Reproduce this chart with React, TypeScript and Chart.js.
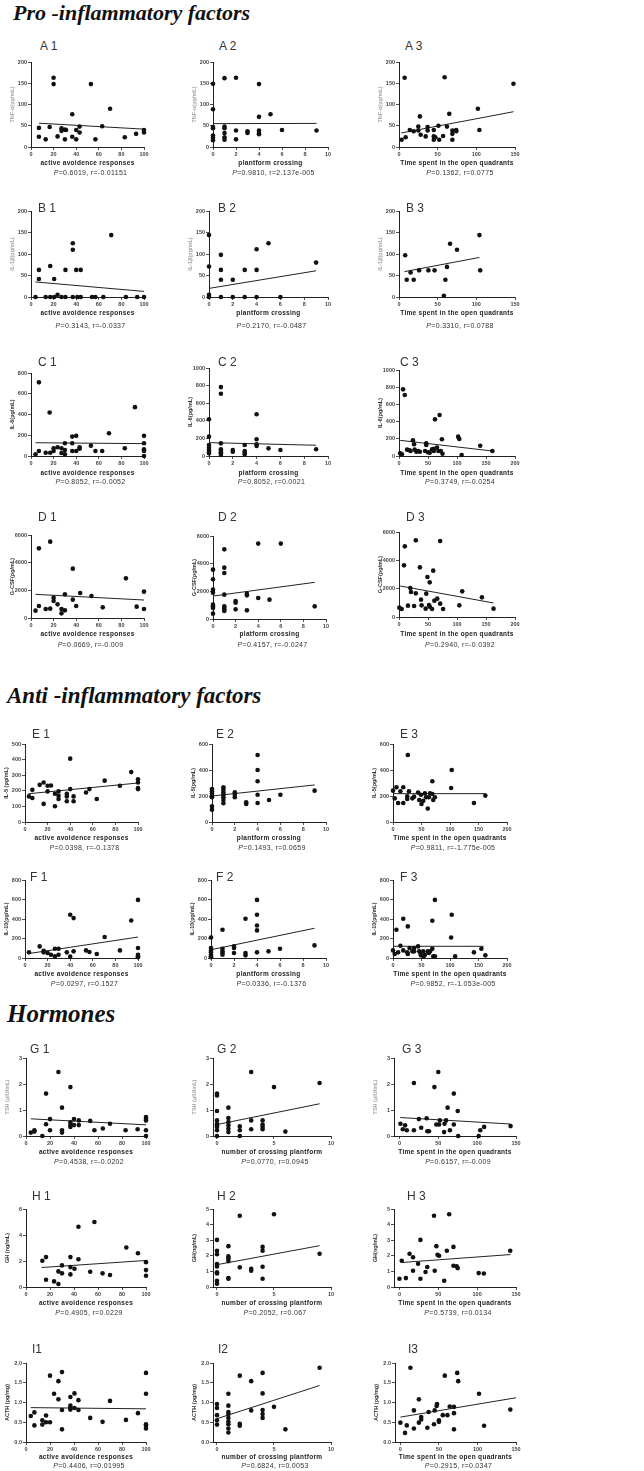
import React, { useEffect, useRef } from "react";
import { Chart, registerables } from "chart.js";
Chart.register(...registerables);

type Pt = [number, number];

// ---------- data (x, y) ----------
const A1: Pt[] = [[7,45],[7,24],[13,18],[16.5,47],[20,163],[20,148],[23.5,25],[27,44],[27,38],[30,41],[30,18],[31,40],[36.5,77],[36.5,24],[40,40],[40,18],[43,48],[43,34],[53,148],[57,18],[63,49],[70,90],[83,23],[93,31],[100,40],[100,34]];
const A1_FIT: Pt[] = [[7,56],[100,42]];
const A2: Pt[] = [[0,149],[0,89],[0,47],[0,44],[0,27],[0,22],[0,16],[1,162],[1,48],[1,44],[1,33],[1,23],[1,17],[2,163],[2,39],[2,18],[3,37],[3,33],[4,148],[4,71],[4,39],[4,33],[4,30],[5,77],[6,40],[9,39]];
const A2_FIT: Pt[] = [[0,55],[9,55.5]];
const A3: Pt[] = [[3.4,17],[7.3,163],[8.6,23],[14,40],[19,37],[25,39],[25,48],[27,72],[28,29],[34.5,25],[37,39],[37,47],[45,25],[45,40],[45,17],[47,23],[51,50],[52,17],[57,26],[59,164],[62,48],[65,78],[69,39],[69,31],[69,17],[74,40],[74,37],[102,90],[104,40],[148,149]];
const A3_FIT: Pt[] = [[3,33],[148,83]];

const B1: Pt[] = [[4,0],[7,63],[7,42],[13,0],[17,72],[17,0],[20.5,42],[20.5,0],[23.5,5],[27,0],[30.5,63],[30.5,0],[37,125],[37,110],[37,0],[40,63],[41,0],[44,63],[44,0],[54,0],[57,0],[64,0],[71,144],[84,0],[94,0],[100,0],[100.5,0]];
const B1_FIT: Pt[] = [[4,35],[100,13]];
const B2: Pt[] = [[0,144],[0,71],[0,5],[0,0],[1,98],[1,63],[1,40],[1,0],[2,40],[2,0],[3,63],[3,0],[4,111],[4,63],[4,0],[5,125],[6,0],[9,80]];
const B2_FIT: Pt[] = [[0,20],[9,61]];
const B3: Pt[] = [[8,97],[10,40],[15,57],[19,40],[26,62],[38,62],[46,62],[58,3],[60,40],[62,70],[66,124],[75,110],[104,144],[105,62]];
const B3_FIT: Pt[] = [[7,59],[104,92]];

const C1: Pt[] = [[4,16],[7,710],[7,48],[13,32],[16.5,419],[17,32],[20,48],[20,74],[23.5,84],[27,74],[27,29],[30,58],[30,123],[30,16],[36.5,187],[36.5,123],[36.5,48],[40,194],[40,48],[43,71],[43,84],[53,100],[57,48],[63,48],[69,219],[83,74],[92,471],[100,194],[100,123],[100,65],[100,48],[100,0]];
const C1_FIT: Pt[] = [[4,128],[100,119]];
const C2: Pt[] = [[0,418],[0,220],[0,125],[0,95],[0,68],[0,49],[0,30],[1,783],[1,707],[1,144],[1,76],[1,57],[1,42],[1,27],[1,11],[2,68],[2,49],[3,125],[3,57],[3,38],[3,19],[4,475],[4,190],[4,133],[4,114],[5,87],[6,68],[9,76]];
const C2_FIT: Pt[] = [[0,152],[9,122]];
const C3: Pt[] = [[2,31],[5,19],[7,775],[10,709],[14,74],[18,66],[20,58],[24,182],[26,136],[27,74],[30,50],[33,58],[36,50],[45,58],[47,128],[47,147],[50,43],[53,39],[57,78],[60,58],[60,85],[62,426],[65.5,97],[68,58],[70,477],[72,58],[74,194],[75,27],[102,225],[104,198],[108,12],[140,120],[161,58]];
const C3_FIT: Pt[] = [[2,182],[161,58]];

const D1: Pt[] = [[4,530],[7,5036],[7,867],[13,650],[17,5518],[17,675],[20,1470],[20,1229],[23.5,988],[27,650],[27,337],[30,1711],[30,554],[37,3566],[37,1325],[40,867],[43.5,1807],[53.5,1590],[63.5,771],[84,2867],[93.5,819],[100,1904],[100,650]];
const D1_FIT: Pt[] = [[4,1710],[100,1300]];
const D2: Pt[] = [[0,3566],[0,2867],[0,2120],[0,1904],[0,1036],[0,916],[0,795],[0,386],[1,5036],[1,3711],[1,3325],[1,1759],[1,916],[1,795],[1,675],[1,578],[2,1301],[2,1181],[2,699],[3,1831],[3,1711],[3,627],[4,5450],[4,1518],[5,1398],[6,5450],[9,916]];
const D2_FIT: Pt[] = [[0,1660],[9,2650]];
const D3: Pt[] = [[0.6,659],[4.6,565],[10,4988],[8.6,3647],[15.5,800],[19.5,2047],[20.7,1765],[26,776],[29,1670],[29,5412],[36,3506],[38,1224],[39,824],[47,1647],[46,588],[49,2824],[51.7,847],[53,2447],[53,729],[57,565],[59,3271],[61,1153],[66,1294],[71,5365],[71,941],[76,565],[104,824],[109,1812],[143,1388],[163,588]];
const D3_FIT: Pt[] = [[2,2190],[163,990]];

const E1: Pt[] = [[3.5,164],[6.5,154],[6.5,206],[13,238],[16.5,253],[16.5,116],[20,232],[20,196],[23,234],[26.5,181],[26.5,101],[29.7,196],[29.7,168],[29.7,147],[37,181],[37,164],[37,133],[40,406],[40,211],[43,164],[43,133],[54,189],[57,211],[63.5,147],[70.5,265],[84,232],[94,320],[100,274],[100,253],[100,217],[100,211]];
const E1_FIT: Pt[] = [[3,181],[100,250]];
const E2: Pt[] = [[0,254],[0,236],[0,220],[0,203],[0,190],[0,120],[0,95],[1,267],[1,249],[1,228],[1,210],[1,190],[1,169],[1,144],[2,228],[2,210],[2,190],[3,151],[3,138],[4,515],[4,400],[4,313],[4,210],[4,146],[5,169],[6,210],[9,241]];
const E2_FIT: Pt[] = [[0,200],[9,285]];
const E3: Pt[] = [[0,241],[3,182],[6,267],[9,146],[13,236],[18,267],[18,146],[25,197],[25,177],[26,515],[28,236],[34,182],[37,195],[44,226],[46,169],[49,210],[50,138],[53,164],[61,103],[56,220],[58,190],[63,190],[65,220],[69,313],[69,215],[70.6,169],[73.5,190],[102,262],[103,400],[142,146],[162,203]];
const E3_FIT: Pt[] = [[0,218],[162,218]];

const F1: Pt[] = [[3.5,58],[13,119],[16.5,75],[16.5,58],[20,51],[23,34],[26.5,17],[26.5,95],[29.7,34],[29.7,95],[37,58],[40,443],[40,14],[43,409],[43,68],[54,78],[57,61],[63.5,41],[70.5,215],[84,78],[94,385],[100,596],[100,102],[100,34],[100,17],[100,7]];
const F1_FIT: Pt[] = [[3,45],[100,215]];
const F2: Pt[] = [[0,211],[0,102],[0,78],[0,58],[0,34],[0,17],[0,7],[1,290],[1,95],[1,68],[1,51],[1,34],[2,119],[2,102],[2,51],[3,402],[3,51],[3,27],[4,596],[4,443],[4,334],[4,283],[4,58],[5,68],[6,95],[9,129]];
const F2_FIT: Pt[] = [[0,85],[9,305]];
const F3: Pt[] = [[0,78],[3,41],[6,290],[9,58],[13,126],[18,402],[18,78],[25,58],[26,324],[26,41],[29,102],[34,68],[37,102],[37,68],[44,119],[46,68],[48,51],[49,27],[53,68],[54,17],[56,34],[61,68],[63,51],[65,68],[69,382],[69,95],[70.6,17],[73.5,596],[73.5,17],[102,211],[103,443],[109,17],[142,58],[155,95],[162,27]];
const F3_FIT: Pt[] = [[0,120],[159,120]];

const G1: Pt[] = [[4,0.13],[7,0.22],[7,0.17],[13.6,0],[16.7,1.63],[16.7,0.45],[20,0.65],[20,0.22],[27,2.46],[30,1.09],[30,0.22],[30,0.13],[37,1.88],[37,0.53],[37,0.42],[37,0.35],[40,0.65],[40,0.42],[44,0.6],[44,0.42],[53.5,0.58],[57,0.22],[64,0.29],[70,0.47],[83,0.22],[93,0.26],[100,0.73],[100,0.65],[100,0.6],[100,0.22],[100,0]];
const G1_FIT: Pt[] = [[4,0.66],[100,0.43]];
const G2: Pt[] = [[0,1.63],[0,1.56],[0,0.96],[0,0.6],[0,0.47],[0,0.41],[0,0.35],[0,0.22],[0,0],[1,1.09],[1,0.69],[1,0.54],[1,0.41],[1,0.28],[1,0.15],[2,0.37],[2,0.22],[2,0],[3,2.46],[3,0.6],[3,0.26],[4,0.6],[4,0.44],[4,0.35],[4,0.26],[5,1.88],[6,0.17],[9,2.04]];
const G2_FIT: Pt[] = [[0,0.44],[9,1.24]];
const G3: Pt[] = [[1.3,0.47],[4.3,0.26],[7.3,0.41],[9.5,0.22],[18.6,2.04],[18.6,0.22],[25,0.65],[28,0.32],[35,0.68],[36,0.18],[38,0.18],[45,1.88],[47.5,0.44],[50,2.46],[51,0.44],[52,0.6],[57.5,0.15],[58,0.47],[60,0.6],[62,1.09],[65,0.22],[70,1.63],[70,0.44],[75,0.96],[75.6,0],[102,0],[104,0.22],[109,0.35],[143,0.38]];
const G3_FIT: Pt[] = [[1,0.71],[143,0.46]];

const H1: Pt[] = [[13.6,2.02],[16.7,2.3],[16.7,0.56],[23.4,0.43],[27,0.23],[27,1.2],[30,1.66],[30,1.05],[37,2.3],[37,1.53],[37,0.97],[40.4,1.4],[43.7,4.64],[43.7,2.14],[53.5,1.17],[57,5.0],[63.8,1.05],[70,0.92],[83.6,3.04],[93.3,2.6],[100,1.91],[100,1.3],[100,0.87]];
const H1_FIT: Pt[] = [[13,1.5],[100,2.04]];
const H2: Pt[] = [[0,3.02],[0,2.32],[0,2.1],[0,1.47],[0,1.32],[0,0.94],[0,0.87],[0,0.4],[0,0.21],[1,2.62],[1,1.96],[1,1.85],[1,1.66],[1,0.57],[1,0.53],[2,4.57],[2,1.26],[3,1.17],[3,1.04],[4,2.57],[4,2.32],[4,1.3],[4,0.53],[5,4.66],[9,2.13]];
const H2_FIT: Pt[] = [[0,1.43],[9,2.65]];
const H3: Pt[] = [[0,0.53],[3,1.68],[8.3,0.57],[13,2.13],[17.5,1.91],[17.5,1.04],[24,1.49],[27,3.02],[27,0.53],[33.6,0.96],[35.8,1.28],[44.5,4.57],[45.4,1.04],[47.5,2.62],[49,2.06],[51,2.0],[57.6,0.4],[61,2.32],[64,4.66],[69.5,2.57],[69.5,1.36],[73.7,1.32],[75,1.21],[102,0.89],[108.6,0.87],[142.6,2.32]];
const H3_FIT: Pt[] = [[3,1.57],[143,2.08]];

const I1: Pt[] = [[4,0.66],[7,0.75],[7,0.42],[13.6,0.55],[13.6,0.44],[16.7,0.67],[16.7,0.5],[20,1.68],[20,0.5],[23.4,1.22],[27,1.54],[27,1.08],[30,1.77],[30,0.81],[30,0.32],[37,1.14],[37,0.92],[37,0.87],[37,0.82],[40.4,1.23],[40.4,0.86],[43.7,1.06],[43.7,0.81],[53.5,0.61],[63.8,0.51],[70,1.04],[83.3,0.56],[93.3,0.73],[100,1.75],[100,1.22],[100,0.45],[100,0.41],[100,0.34]];
const I1_FIT: Pt[] = [[4,0.87],[100,0.84]];
const I2: Pt[] = [[0,0.96],[0,0.86],[0,0.68],[0,0.55],[0,0.44],[1,1.22],[1,0.92],[1,0.76],[1,0.71],[1,0.61],[1,0.51],[1,0.45],[1,0.34],[1,0.24],[2,1.68],[2,0.46],[2,0.41],[3,1.54],[3,0.8],[4,1.75],[4,1.23],[4,0.81],[4,0.71],[4,0.61],[5,0.89],[6,0.32],[9,1.88]];
const I2_FIT: Pt[] = [[0,0.59],[9,1.43]];
const I3: Pt[] = [[0,0.49],[6,0.23],[8.3,0.42],[13,1.88],[17.5,0.8],[17.5,0.34],[24,1.08],[24,0.49],[27,0.63],[27,0.57],[35,0.36],[36.6,0.76],[43.6,0.45],[44.5,0.8],[47,0.91],[47.5,0.96],[50,0.55],[50,0.51],[55,0.68],[57.6,1.68],[61,0.68],[64,0.9],[69.5,0.73],[69.5,0.89],[69.5,0.32],[73.7,1.75],[75,1.54],[102,1.22],[108.6,0.41],[142.6,0.82]];
const I3_FIT: Pt[] = [[0,0.63],[150,1.12]];

// ---------- tick labels ----------
const X_100 = [0, 20, 40, 60, 80, 100];
const X_10 = [0, 2, 4, 6, 8, 10];
const X_10B = [0, 5, 10];
const X_150 = [0, 50, 100, 150];
const X_200 = [0, 50, 100, 150, 200];
const Y_200 = [0, 50, 100, 150, 200];
const Y_800 = [0, 200, 400, 600, 800];
const Y_1000 = [0, 200, 400, 600, 800, 1000];
const Y_6000 = [0, 2000, 4000, 6000];
const Y_500 = [0, 100, 200, 300, 400, 500];
const Y_600 = [0, 200, 400, 600];
const Y_3 = [0, 1, 2, 3];
const Y_6 = [0, 2, 4, 6];
const Y_5 = [0, 1, 2, 3, 4, 5];
const Y_2 = [0, 0.5, 1, 1.5, 2];

// ---------- texts ----------
const STATS = [
  "=0.6019, r=-0.01151", "=0.9810, r=2.137e-005", "=0.1362, r=0.0775",
  "=0.3143, r=-0.0337", "=0.2170, r=-0.0487", "=0.3310, r=0.0788",
  "=0.8052, r=-0.0052", "=0.8052, r=0.0021", "=0.3749, r=-0.0254",
  "=0.0669, r=-0.009", "=0.4157, r=-0.0247", "=0.2940, r=-0.0392",
  "=0.0398, r=-0.1378", "=0.1493, r=0.0659", "=0.9811, r=-1.775e-005",
  "=0.0297, r=0.1527", "=0.0336, r=-0.1376", "=0.9852, r=-1.053e-005",
  "=0.4538, r=-0.0202", "=0.0770, r=0.0945", "=0.6157, r=-0.009",
  "=0.4905, r=0.0229", "=0.2052, r=0.067", "=0.5739, r=0.0134",
  "=0.4406, r=0.01995", "=0.6824, r=0.0053", "=0.2915, r=0.0347",
];
const XT_AAR = "active avoidence responses";
const XT_PC = "plantform crossing";
const XT_PC2 = "platform crossing";
const XT_NCP = "number of crossing plantform";
const XT_TS = "Time spent in the open quadrants";

const SANS = '"Liberation Sans", Arial, sans-serif';
const SERIF = '"Liberation Serif", "Times New Roman", serif';

interface Spec {
  label: string; data: Pt[]; fit: Pt[]; stat: string; xTitle: string; yTitle: string; faint: boolean;
  left: number; right: number; top: number; bottom: number;
  xMin: number; xTicks: number[]; yTicks: number[];
  labX: number; labY: number; xtY: number; pvY: number;
}

function sp(label: string, data: Pt[], fit: Pt[], stat: string, xTitle: string, yTitle: string, faint: boolean,
  box: [number, number, number, number], xMin: number, xTicks: number[], yTicks: number[],
  lab: [number, number], xtY: number, pvY: number): Spec {
  return { label, data, fit, stat, xTitle, yTitle, faint, left: box[0], right: box[1], top: box[2], bottom: box[3],
    xMin, xTicks, yTicks, labX: lab[0], labY: lab[1], xtY, pvY };
}

const PANELS: Spec[] = [
  sp("A 1", A1, A1_FIT, STATS[0], XT_AAR, "TNF-α(pg/mL)", true, [31, 144, 62, 147], 0, X_100, Y_200, [40, 46], 163, 173),
  sp("A 2", A2, A2_FIT, STATS[1], XT_PC, "TNF-α(pg/mL)", true, [213, 328, 62, 147], 0, X_10, Y_200, [219, 46], 163, 173),
  sp("A 3", A3, A3_FIT, STATS[2], XT_TS, "TNF-α(pg/mL)", true, [399, 515, 62, 147], 0, X_150, Y_200, [405, 46], 163, 173),
  sp("B 1", B1, B1_FIT, STATS[3], XT_AAR, "IL-1β(pg/mL)", true, [31, 144, 211, 297], 0, X_100, Y_200, [38, 208], 313, 326),
  sp("B 2", B2, B2_FIT, STATS[4], XT_PC, "IL-1β(pg/mL)", true, [209, 328, 211, 297], 0, X_10, Y_200, [218, 208], 313, 326),
  sp("B 3", B3, B3_FIT, STATS[5], XT_TS, "IL-1β(pg/mL)", true, [399, 515, 211, 297], 0, X_150, Y_200, [406, 208], 313, 326),
  sp("C 1", C1, C1_FIT, STATS[6], XT_AAR, "IL-6(pg/mL)", false, [31, 144, 373, 456], 0, X_100, Y_800, [38, 362], 473, 482),
  sp("C 2", C2, C2_FIT, STATS[7], XT_PC2, "IL-6(pg/mL)", false, [209, 328, 368, 456], 0, X_10, Y_1000, [218, 362], 473, 482),
  sp("C 3", C3, C3_FIT, STATS[8], XT_TS, "IL-6(pg/mL)", false, [399, 515, 370, 456], 0, X_200, Y_1000, [400, 362], 473, 482),
  sp("D 1", D1, D1_FIT, STATS[9], XT_AAR, "G-CSF(pg/mL)", false, [31, 144, 535, 618], 0, X_100, Y_6000, [38, 517], 634, 645),
  sp("D 2", D2, D2_FIT, STATS[10], XT_PC2, "G-CSF(pg/mL)", false, [213, 326, 536, 619], 0, X_10, Y_6000, [218, 517], 634, 645),
  sp("D 3", D3, D3_FIT, STATS[11], XT_TS, "G-CSF(pg/mL)", false, [399, 515, 532, 617], 0, X_200, Y_6000, [406, 517], 634, 645),
  sp("E 1", E1, E1_FIT, STATS[12], XT_AAR, "IL-5 (pg/mL)", false, [25, 138, 744, 822], 0, X_100, Y_500, [32, 734], 838, 848),
  sp("E 2", E2, E2_FIT, STATS[13], XT_PC, "IL-5(pg/mL)", false, [212, 326, 744, 822], 0, X_10, Y_600, [216, 734], 838, 848),
  sp("E 3", E3, E3_FIT, STATS[14], XT_TS, "IL-5(pg/mL)", false, [393, 507, 744, 822], 0, X_200, Y_600, [400, 734], 838, 848),
  sp("F 1", F1, F1_FIT, STATS[15], XT_AAR, "IL-10(pg/mL)", false, [25, 138, 880, 958], 0, X_100, Y_800, [30, 877], 974, 984),
  sp("F 2", F2, F2_FIT, STATS[16], XT_PC, "IL-10(pg/mL)", false, [211, 326, 880, 958], 0, X_10, Y_800, [216, 877], 974, 984),
  sp("F 3", F3, F3_FIT, STATS[17], XT_TS, "IL-10(pg/mL)", false, [393, 507, 880, 958], 0, X_200, Y_800, [400, 877], 974, 984),
  sp("G 1", G1, G1_FIT, STATS[18], XT_AAR, "TSH (μIU/mL)", true, [26, 146, 1058, 1136], 0, X_100, Y_3, [30, 1049], 1152, 1162),
  sp("G 2", G2, G2_FIT, STATS[19], XT_NCP, "TSH (μIU/mL)", true, [213, 331, 1058, 1136], -0.35, X_10B, Y_3, [217, 1049], 1152, 1162),
  sp("G 3", G3, G3_FIT, STATS[20], XT_TS, "TSH (μIU/mL)", true, [394, 516, 1058, 1136], -7, X_150, Y_3, [402, 1049], 1152, 1162),
  sp("H 1", H1, H1_FIT, STATS[21], XT_AAR, "GH (ng/mL)", false, [26, 146, 1209, 1287], 0, X_100, Y_6, [32, 1196], 1303, 1313),
  sp("H 2", H2, H2_FIT, STATS[22], XT_NCP, "GH(ng/mL)", false, [213, 331, 1209, 1287], -0.35, X_10B, Y_5, [217, 1196], 1303, 1313),
  sp("H 3", H3, H3_FIT, STATS[23], XT_TS, "GH(ng/mL)", false, [394, 516, 1209, 1287], -7, X_150, Y_5, [407, 1196], 1303, 1313),
  sp("I1", I1, I1_FIT, STATS[24], XT_AAR, "ACTH (pg/mg)", false, [26, 146, 1363, 1442], 0, X_100, Y_2, [32, 1349], 1457, 1466),
  sp("I2", I2, I2_FIT, STATS[25], XT_NCP, "ACTH (pg/mg)", false, [213, 331, 1363, 1442], -0.35, X_10B, Y_2, [218, 1349], 1457, 1466),
  sp("I3", I3, I3_FIT, STATS[26], XT_TS, "ACTH (pg/mg)", false, [395, 516, 1363, 1442], -7, X_150, Y_2, [408, 1349], 1457, 1466),
];

const SECTIONS = [
  { text: "Pro -inflammatory factors", left: 13, top: 2, size: 22 },
  { text: "Anti -inflammatory factors", left: 7, top: 684, size: 23 },
  { text: "Hormones", left: 7, top: 1001, size: 25 },
];

function Panel({ s }: { s: Spec }) {
  const ref = useRef<HTMLCanvasElement>(null);
  const L = Math.min(30, s.left);
  const T = 8, R = 10, B = 14;
  const w = s.right - s.left + L + R;
  const h = s.bottom - s.top + T + B;
  useEffect(() => {
    const tickFont = { family: SANS, size: 5.5, weight: "bold" as const };
    const isDec = s.yTicks.some((v) => v % 1 !== 0);
    const chart = new Chart(ref.current as HTMLCanvasElement, {
      type: "scatter",
      data: {
        datasets: [
          {
            type: "scatter",
            data: s.data.map(([x, y]) => ({ x, y })),
            pointRadius: 2.3,
            pointBackgroundColor: "#111",
            pointBorderWidth: 0,
            clip: false,
          },
          {
            type: "line",
            data: s.fit.map(([x, y]) => ({ x, y })),
            borderColor: "#222",
            borderWidth: 1,
            pointRadius: 0,
            fill: false,
            clip: false,
          },
        ],
      },
      options: {
        animation: false,
        responsive: false,
        events: [],
        layout: { padding: { top: T, right: R, left: 0, bottom: 0 } },
        plugins: { legend: { display: false }, tooltip: { enabled: false } },
        scales: {
          x: {
            type: "linear",
            min: s.xMin,
            max: s.xTicks[s.xTicks.length - 1],
            afterBuildTicks: (sc: any) => { sc.ticks = s.xTicks.map((v) => ({ value: v })); },
            afterFit: (sc: any) => { sc.height = B; sc.paddingLeft = 0; sc.paddingRight = 0; },
            grid: { drawOnChartArea: false, drawTicks: true, tickLength: 3, color: "#222", lineWidth: 0.8 },
            border: { display: true, color: "#222", width: 1 },
            ticks: { font: tickFont, color: "#444", padding: 1, maxRotation: 0, autoSkip: false },
          },
          y: {
            type: "linear",
            min: 0,
            max: s.yTicks[s.yTicks.length - 1],
            afterBuildTicks: (sc: any) => { sc.ticks = s.yTicks.map((v) => ({ value: v })); },
            afterFit: (sc: any) => { sc.width = L; sc.paddingTop = 0; sc.paddingBottom = 0; },
            grid: { drawOnChartArea: false, drawTicks: true, tickLength: 3, color: "#222", lineWidth: 0.8 },
            border: { display: true, color: "#222", width: 1 },
            ticks: {
              font: tickFont, color: "#444", padding: 1, autoSkip: false,
              callback: (v: any) => (isDec ? Number(v).toFixed(1) : String(v)),
            },
            title: {
              display: true,
              text: s.yTitle,
              color: s.faint ? "#a8a8a8" : "#333",
              font: { family: SANS, size: 5.5, weight: "bold" },
              padding: { top: Math.max(0, L - 19 - 3.3), bottom: 0 },
            },
          },
        },
      },
    } as any);
    return () => chart.destroy();
  }, [s]);
  const cx = (s.left + s.right) / 2;
  return (
    <>
      <canvas
        ref={ref}
        width={w}
        height={h}
        style={{ position: "absolute", left: s.left - L, top: s.top - T, width: w, height: h }}
      />
      <div style={{ position: "absolute", left: s.labX, top: s.labY - 6, fontFamily: SANS, fontSize: 12, lineHeight: "12px", color: "#333", whiteSpace: "pre" }}>
        {s.label}
      </div>
      <div style={{ position: "absolute", left: cx - 80, width: 160, top: s.xtY - 4, textAlign: "center", fontFamily: SANS, fontSize: 6.5, fontWeight: "bold", letterSpacing: 0.3, lineHeight: "8px", color: "#222", whiteSpace: "nowrap" }}>
        {s.xTitle}
      </div>
      <div style={{ position: "absolute", left: cx - 80 + 3, width: 160, top: s.pvY - 4, textAlign: "center", fontFamily: SANS, fontSize: 7, letterSpacing: 0.3, lineHeight: "8px", color: "#333", whiteSpace: "nowrap" }}>
        <i>P</i>{s.stat}
      </div>
    </>
  );
}

export default function App() {
  return (
    <div style={{ position: "absolute", left: 0, top: 0, width: 644, height: 1471, background: "#fff", overflow: "hidden" }}>
      {SECTIONS.map((t) => (
        <div key={t.text} style={{ position: "absolute", left: t.left, top: t.top, fontFamily: SERIF, fontWeight: "bold", fontStyle: "italic", fontSize: t.size, lineHeight: 1, color: "#111", whiteSpace: "nowrap" }}>
          {t.text}
        </div>
      ))}
      {PANELS.map((s) => (
        <Panel key={s.label} s={s} />
      ))}
    </div>
  );
}
